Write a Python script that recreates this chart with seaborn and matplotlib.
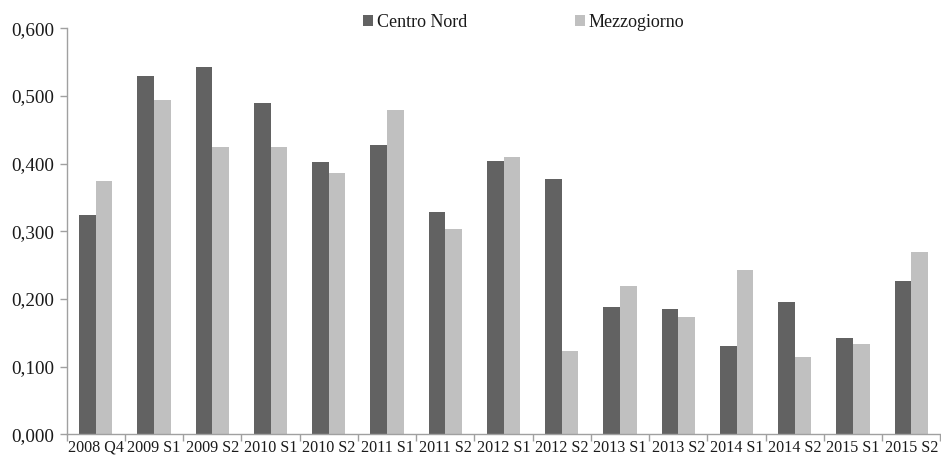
import matplotlib
matplotlib.use("Agg")
import matplotlib.pyplot as plt
import matplotlib.ticker as mticker
import seaborn as sns
import pandas as pd

periods = ["2008 Q4", "2009 S1", "2009 S2", "2010 S1", "2010 S2", "2011 S1",
           "2011 S2", "2012 S1", "2012 S2", "2013 S1", "2013 S2", "2014 S1",
           "2014 S2", "2015 S1", "2015 S2"]
centro_nord = [0.324, 0.529, 0.543, 0.490, 0.402, 0.427, 0.328, 0.404,
               0.377, 0.188, 0.185, 0.131, 0.196, 0.143, 0.226]
mezzogiorno = [0.375, 0.494, 0.424, 0.424, 0.386, 0.479, 0.304, 0.410,
               0.123, 0.219, 0.174, 0.243, 0.115, 0.133, 0.269]
series_names = ["Centro Nord", "Mezzogiorno"]
y_ticks = [0.0, 0.1, 0.2, 0.3, 0.4, 0.5, 0.6]

df = pd.DataFrame({
    "periodo": periods * 2,
    "area": [series_names[0]] * len(periods) + [series_names[1]] * len(periods),
    "valore": centro_nord + mezzogiorno,
})

sns.set_style("white")
plt.rcParams["font.family"] = ["Liberation Serif", "DejaVu Serif"]

fig = plt.figure(figsize=(9.41, 4.58), dpi=100)
ax = fig.add_axes([0.0709, 0.0517, 0.9285, 0.8865])

sns.barplot(data=df, x="periodo", y="valore", hue="area", order=periods,
            hue_order=series_names, palette=["#626262", "#c0c0c0"],
            width=0.57, gap=0, saturation=1, errorbar=None, ax=ax,
            linewidth=0)

ax.set_xlim(-0.5, len(periods) - 0.5)
ax.set_ylim(0, 0.6)
ax.set_yticks(y_ticks)
ax.yaxis.set_major_formatter(
    mticker.FuncFormatter(lambda v, _: f"{v:.3f}".replace(".", ",")))
ax.set_xlabel("")
ax.set_ylabel("")

# category separators as ticks, labels centred without tick marks
ax.set_xticks(range(len(periods)))
ax.set_xticklabels(periods)
ax.set_xticks([i - 0.5 for i in range(len(periods) + 1)], minor=True)
ax.tick_params(axis="x", which="major", length=0, pad=4, labelsize=11.6)
ax.tick_params(axis="x", which="minor", bottom=True, length=5, width=1,
               color="#a0a0a0", direction="out")
ax.tick_params(axis="y", left=True, length=5, width=1, color="#a0a0a0",
               direction="out", labelsize=13.8, pad=4)
ax.tick_params(axis="both", labelcolor="#1a1a1a")

for side in ("top", "right"):
    ax.spines[side].set_visible(False)
for side in ("left", "bottom"):
    ax.spines[side].set_color("#a0a0a0")
    ax.spines[side].set_linewidth(1)

leg = ax.legend(loc="center", bbox_to_anchor=(0.5565, 0.951),
                bbox_transform=fig.transFigure, ncol=2, frameon=False,
                handlelength=0.55, handleheight=0.55, handletextpad=0.2,
                columnspacing=6.0, fontsize=13)
for t in leg.get_texts():
    t.set_color("#1a1a1a")

fig.savefig("out.png", dpi=100)
